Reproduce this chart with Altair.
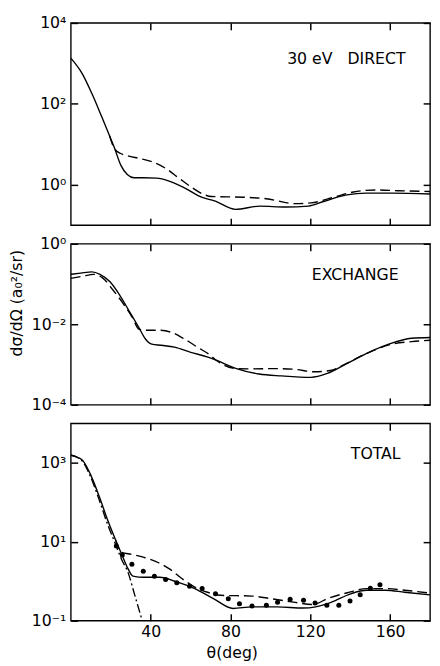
import altair as alt
import pandas as pd

# ---------------- data ----------------
# Panel 1: 30 eV DIRECT
p1_solid_theta = [0, 5.7, 10.5, 15.4, 19.4, 21.8, 25.1, 28.3, 31.6, 36.4, 42.9, 49.3, 57.4, 65.5, 72,
                  82.5, 94.7, 107.6, 119, 127, 138.3, 148, 161, 180]
p1_solid_val = [1350, 560, 182, 49, 16.2, 8.3, 3.0, 1.78, 1.48, 1.48, 1.45, 1.23, 0.81, 0.49, 0.40,
                0.245, 0.295, 0.28, 0.295, 0.39, 0.56, 0.62, 0.62, 0.59]
p1_dash_theta = [19.4, 21.8, 25, 28.3, 34.8, 41.3, 47.7, 54.2, 60.7, 67.1, 70.4, 86.6, 97.9, 112.5,
                 120.4, 131.9, 141.6, 153, 164, 180]
p1_dash_val = [16.2, 7.9, 5.9, 5.2, 4.4, 3.6, 2.5, 1.45, 0.85, 0.56, 0.51, 0.49, 0.45, 0.34,
               0.355, 0.49, 0.66, 0.74, 0.71, 0.68]

# Panel 2: EXCHANGE
p2_solid_theta = [0, 4.9, 10.6, 14.6, 19.5, 24.4, 29.3, 34.1, 37.4, 40.6, 45.5, 52, 60.1, 68.3, 73.2,
                  83, 94.3, 105.7, 120.3, 128.5, 138.2, 148, 159.3, 170.7, 180]
p2_solid_val = [0.174, 0.186, 0.20, 0.174, 0.115, 0.054, 0.021, 0.0083, 0.0043, 0.0032, 0.0030, 0.0027,
                0.0020, 0.00155, 0.00126, 0.00079, 0.00058, 0.00052, 0.00048, 0.0006, 0.00105, 0.00186,
                0.0032, 0.0045, 0.0047]
p2_dash_theta = [0, 6.5, 11.4, 16.2, 21.1, 26, 30.9, 34.1, 37.4, 43.9, 50.4, 56.9, 63.4, 69.9, 73,
                 83, 89.4, 102.4, 112, 122, 130, 138, 148, 161, 170.7, 180]
p2_dash_val = [0.138, 0.158, 0.174, 0.138, 0.071, 0.034, 0.0145, 0.0076, 0.0071, 0.0071, 0.0063, 0.0043,
               0.0027, 0.0017, 0.00126, 0.00079, 0.00078, 0.00079, 0.00076, 0.00066, 0.00071, 0.00105,
               0.00186, 0.0032, 0.0037, 0.0040]

# Panel 3: TOTAL
p3_solid_theta = [0, 5.6, 9.6, 14.3, 18.4, 22.3, 25.5, 28.7, 31.1, 36.7, 44.6, 52.6, 62.1, 71.7, 81.3,
                  90.8, 103.6, 116.3, 122.7, 130.7, 140.2, 148.2, 157.7, 167.3, 180]
p3_solid_val = [1550, 1200, 540, 138, 36, 11.5, 4.8, 2.05, 1.35, 1.26, 1.26, 0.98, 0.65, 0.355, 0.204,
                0.224, 0.224, 0.209, 0.224, 0.295, 0.48, 0.59, 0.59, 0.525, 0.45]
p3_dash_theta = [22.3, 25.5, 30.3, 36.7, 43, 49.4, 55.8, 62.1, 68.5, 74.9, 90.8, 100.4, 111.6, 121.1,
                 129, 138.6, 148.2, 157.7, 167.3, 180]
p3_dash_val = [11.5, 5.4, 4.8, 4.0, 3.1, 2.05, 1.15, 0.71, 0.525, 0.44, 0.42, 0.36, 0.295, 0.257,
               0.37, 0.51, 0.65, 0.65, 0.59, 0.50]
p3_dd_theta = [0, 5.6, 9.6, 14.3, 18.4, 22.3, 25.5, 28.7, 31.9, 35.9, 37.5]
p3_dd_val = [1580, 1120, 480, 112, 28, 8.9, 3.5, 1.65, 0.47, 0.095, 0.05]
p3_exp_theta = [22.8, 25.8, 30.6, 36.3, 41.9, 47.5, 53.1, 59.5, 65.8, 72.5, 78.9, 84.5, 90.8, 98,
                103.6, 109.9, 116.6, 122.4, 128.3, 134.3, 139.9, 145, 150.1, 154.9]
p3_exp_val = [7.8, 4.6, 2.7, 1.78, 1.33, 1.10, 0.91, 0.75, 0.65, 0.48, 0.36, 0.27, 0.234, 0.245,
              0.295, 0.347, 0.33, 0.28, 0.245, 0.245, 0.316, 0.457, 0.66, 0.81]

x_ticks = [40, 80, 120, 160]
panel_labels = ["30 eV\u00a0\u00a0\u00a0DIRECT", "EXCHANGE", "TOTAL"]
y_title = "dσ/dΩ (a₀²/sr)"
x_title = "θ(deg)"

# ---------------- chart ----------------
FONT = "DejaVu Sans"
W = 366
SUP = {"-": "⁻", "0": "⁰", "1": "¹", "2": "²", "3": "³", "4": "⁴"}


def sup_label(e):
    return "10" + "".join(SUP[c] for c in str(e))


def label_expr(exps):
    parts = [f"round(log(datum.value)/LN10) == {e} ? '{sup_label(e)}'" for e in exps]
    return " : ".join(parts) + " : ''"


def df(t, v):
    return pd.DataFrame({"theta": t, "v": v})


def panel(curves, exps, dom, height, label, bottom=False, ytitle=None, dots=None,
          label_y=36, label_r=28):
    xs = alt.Scale(domain=[0, 180], nice=False, zero=False)
    ys = alt.Scale(type="log", domain=[10.0 ** dom[0], 10.0 ** dom[1]], nice=False)
    yvals = [10.0 ** e for e in exps]
    common = dict(offset=-7, tickSize=7, domain=False, grid=False, tickColor="black",
                  tickWidth=1.5, labelColor="black", labelFont=FONT, labelFontSize=16,
                  titleFont=FONT, titleColor="black", titleFontWeight="normal")
    ax_bottom_kw = dict(common, orient="bottom", values=x_ticks, labels=bottom, labelPadding=3)
    if bottom:
        ax_bottom_kw.update(title=x_title, titleFontSize=16, titlePadding=6, titleX=164)
    else:
        ax_bottom_kw.update(title=None)
    ax_bottom = alt.Axis(**ax_bottom_kw)
    ax_top = alt.Axis(**dict(common, orient="top", values=x_ticks, labels=False, title=None))
    ax_left_kw = dict(common, orient="left", values=yvals, labelExpr=label_expr(exps),
                      labelPadding=5)
    if ytitle:
        ax_left_kw.update(title=ytitle, titleFontSize=16, titlePadding=7, titleY=60)
    else:
        ax_left_kw.update(title=None)
    ax_left = alt.Axis(**ax_left_kw)
    ax_right = alt.Axis(**dict(common, orient="right", values=yvals, labels=False, title=None))

    layers = []
    for i, (t, v, dash) in enumerate(curves):
        if i == 0:
            xa, ya = ax_bottom, ax_left
        elif i == 1:
            xa, ya = ax_top, ax_right
        else:
            xa, ya = None, None
        mk = dict(color="black", strokeWidth=1.4, interpolate="monotone", clip=True)
        if dash:
            mk["strokeDash"] = dash
        layers.append(
            alt.Chart(df(t, v)).mark_line(**mk).encode(
                x=alt.X("theta:Q", scale=xs, axis=xa),
                y=alt.Y("v:Q", scale=ys, axis=ya),
            )
        )
    if dots is not None:
        layers.append(
            alt.Chart(df(*dots)).mark_circle(size=26, color="black", opacity=1, clip=True).encode(
                x=alt.X("theta:Q", scale=xs, axis=None),
                y=alt.Y("v:Q", scale=ys, axis=None),
            )
        )
    layers.append(
        alt.Chart(pd.DataFrame({"label": [label]})).mark_text(
            font=FONT, fontSize=16, align="right", baseline="middle", color="black"
        ).encode(x=alt.value(W - label_r), y=alt.value(label_y), text="label:N")
    )
    return alt.layer(*layers).properties(width=W, height=height).resolve_axis(
        x="independent", y="independent"
    )


p1 = panel([(p1_solid_theta, p1_solid_val, None), (p1_dash_theta, p1_dash_val, [10, 5])],
           [4, 2, 0], (-1, 4), 206, panel_labels[0], label_y=37, label_r=25)
p2 = panel([(p2_solid_theta, p2_solid_val, None), (p2_dash_theta, p2_dash_val, [10, 5])],
           [0, -2, -4], (-4, 0), 164, panel_labels[1], ytitle=y_title, label_y=32, label_r=32)
p3 = panel([(p3_solid_theta, p3_solid_val, None), (p3_dash_theta, p3_dash_val, [10, 5]),
            (p3_dd_theta, p3_dd_val, [9, 3, 2, 3])],
           [3, 1, -1], (-1, 4), 201, panel_labels[2], bottom=True,
           dots=(p3_exp_theta, p3_exp_val), label_y=31, label_r=30)

chart = alt.vconcat(p1, p2, p3, spacing=8).properties(
    padding={"left": 0, "top": 0, "right": 0, "bottom": 0}, background="white"
).configure_view(stroke="black", strokeWidth=1.4)

chart.save("out.html", embed_options={"renderer": "svg", "actions": False})
